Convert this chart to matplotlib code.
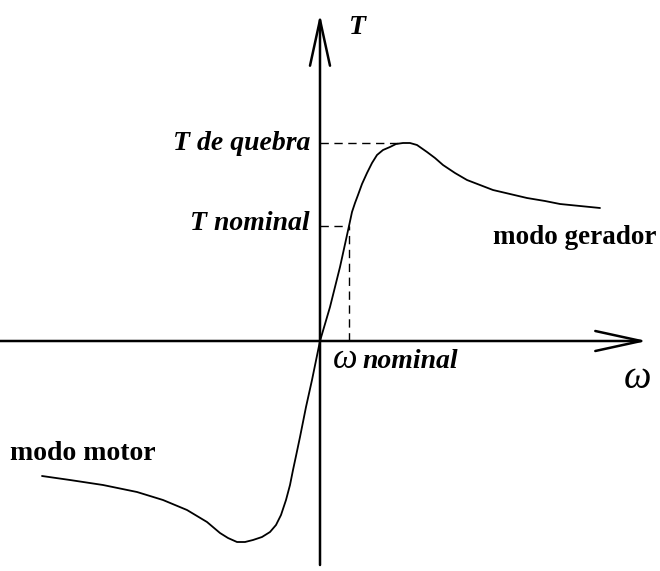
import matplotlib
matplotlib.use("Agg")
import matplotlib.pyplot as plt

# Torque-speed curve (omega, T) in arbitrary units (origin at axis crossing)
omega = [-2.78, -2.50, -2.17, -1.83, -1.57, -1.33, -1.13, -1.00, -0.92, -0.83,
         -0.75, -0.67, -0.58, -0.50, -0.44, -0.39, -0.34, -0.30, -0.27, -0.24,
         -0.20, -0.14, -0.08, 0.00, 0.10, 0.20, 0.29, 0.32, 0.35, 0.38, 0.42,
         0.47, 0.52, 0.57, 0.63, 0.70, 0.76, 0.83, 0.90, 0.97, 1.07, 1.15,
         1.23, 1.35, 1.47, 1.60, 1.73, 1.90, 2.07, 2.25, 2.40, 2.60, 2.80]
torque = [-1.35, -1.39, -1.44, -1.51, -1.59, -1.69, -1.81, -1.92, -1.97, -2.01,
          -2.01, -1.99, -1.96, -1.91, -1.84, -1.74, -1.59, -1.44, -1.29, -1.15,
          -0.96, -0.66, -0.39, 0.00, 0.34, 0.74, 1.15, 1.29, 1.38, 1.46, 1.57,
          1.68, 1.78, 1.86, 1.91, 1.94, 1.97, 1.98, 1.98, 1.96, 1.89, 1.83,
          1.76, 1.68, 1.61, 1.56, 1.51, 1.47, 1.43, 1.40, 1.37, 1.35, 1.33]

T_breakdown = 1.98
T_nominal = 1.15
omega_nominal = 0.29

fig = plt.figure(figsize=(6.6, 5.71), dpi=100)
ax = fig.add_axes([0, 0, 1, 1])
ax.set_xlim(-3.20, 3.40)
ax.set_ylim(-2.30, 3.41)
ax.axis("off")

arrow = dict(arrowstyle="->,head_length=3.3,head_width=0.72", mutation_scale=10,
             lw=1.8, color="black", shrinkA=0, shrinkB=0)
ax.annotate("", xy=(3.27, 0), xytext=(-3.20, 0), arrowprops=arrow)
ax.annotate("", xy=(0, 3.27), xytext=(0, -2.24), arrowprops=arrow)

ax.plot(omega, torque, color="black", lw=1.3, solid_joinstyle="round",
        solid_capstyle="round")

dash = dict(color="black", lw=1.0, ls=(0, (6, 4)))
ax.plot([0, 0.82], [T_breakdown, T_breakdown], **dash)
ax.plot([0, omega_nominal], [T_nominal, T_nominal], **dash)
ax.plot([omega_nominal, omega_nominal], [0, T_nominal], **dash)

serif = "Liberation Serif"
fs = 20
ax.text(0.37, 3.14, "T", fontsize=fs, family=serif, style="italic", weight="bold",
        ha="center", va="center")
ax.text(-0.10, T_breakdown, "T de quebra", fontsize=fs, family=serif, style="italic",
        weight="bold", ha="right", va="center")
ax.text(-0.10, T_nominal + 0.02, "T nominal", fontsize=fs, family=serif, style="italic",
        weight="bold", ha="right", va="center")
ax.text(1.73, 1.04, "modo gerador", fontsize=19.5, family=serif, weight="bold",
        ha="left", va="center")
ax.text(0.13, -0.19, "ω", fontsize=25, family=serif, style="italic",
        ha="left", va="center")
ax.text(0.42, -0.21, "nominal", fontsize=fs, family=serif, style="italic", weight="bold",
        ha="left", va="center")
ax.text(3.17, -0.38, "ω", fontsize=28, family=serif, style="italic",
        ha="center", va="center")
ax.text(-3.10, -1.12, "modo motor", fontsize=fs, family=serif, weight="bold",
        ha="left", va="center")

fig.savefig("out.png", dpi=100)
